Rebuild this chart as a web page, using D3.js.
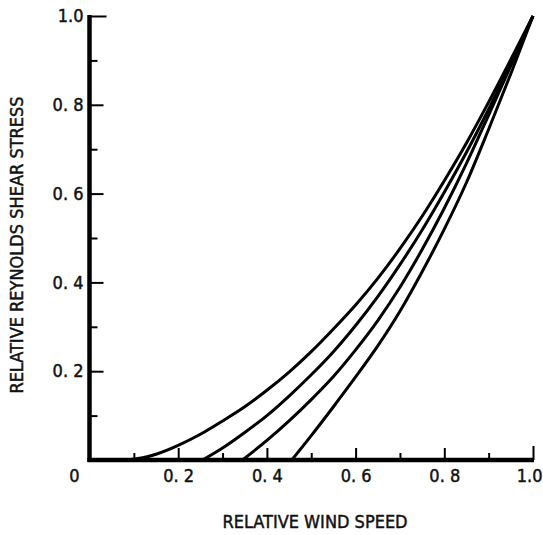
<!DOCTYPE html>
<html>
  <head>
    <title>Relative Reynolds shear stress</title>
    <script src="https://cdn.jsdelivr.net/npm/d3@7/dist/d3.min.js"></script>
    <style>
      body { margin: 0; background: #fff; }
      text { font-family: 'Liberation Sans Narrow', 'DejaVu Sans Condensed', sans-serif; fill: #111; stroke: #111; stroke-width: 0.45px; }
    </style>
  </head>
  <body>
    <svg width='543' height='535'></svg>
    <script>
      const svg = d3.select('svg');
      const margin = {top: 16, bottom: 75, left: 89.5, right: 10};

      // values: [relative wind speed, relative shear stress]
      const curve1 = [[0.08, 0], [0.12, 0.005], [0.15, 0.013], [0.2, 0.033], [0.25, 0.058], [0.3, 0.088],
                      [0.35, 0.120], [0.4, 0.157], [0.45, 0.198], [0.5, 0.244], [0.55, 0.295], [0.6, 0.349],
                      [0.65, 0.409], [0.7, 0.476], [0.75, 0.549], [0.8, 0.629], [0.85, 0.714], [0.9, 0.806],
                      [0.95, 0.902], [1, 1]];
      const curve2 = [[0.255, 0], [0.3, 0.027], [0.35, 0.062], [0.4, 0.100], [0.45, 0.144], [0.5, 0.192],
                      [0.55, 0.244], [0.6, 0.303], [0.65, 0.368], [0.7, 0.440], [0.75, 0.518], [0.8, 0.603],
                      [0.85, 0.693], [0.9, 0.790], [0.95, 0.893], [1, 1]];
      const curve3 = [[0.345, 0], [0.4, 0.044], [0.45, 0.088], [0.5, 0.136], [0.55, 0.188], [0.6, 0.248],
                      [0.65, 0.314], [0.7, 0.389], [0.75, 0.474], [0.8, 0.567], [0.85, 0.668], [0.9, 0.777],
                      [0.95, 0.888], [1, 1]];
      const curve4 = [[0.456, 0], [0.5, 0.055], [0.55, 0.120], [0.6, 0.187], [0.65, 0.257], [0.7, 0.335],
                      [0.75, 0.424], [0.8, 0.520], [0.85, 0.625], [0.9, 0.745], [0.95, 0.870], [1, 1]];
      const curves = [curve1, curve2, curve3, curve4];

      const majorTicks = [0.2, 0.4, 0.6, 0.8, 1.0];
      const minorTicks = [0.1, 0.3, 0.5, 0.7, 0.9];
      const xTickLabels = ['0. 2', '0. 4', '0. 6', '0. 8', '1.0'];
      const yTickLabels = ['0. 2', '0. 4', '0. 6', '0. 8', '1.0'];
      const originLabel = '0';
      const xTitle = 'RELATIVE WIND SPEED';
      const yTitle = 'RELATIVE REYNOLDS SHEAR STRESS';

      const width = 543, height = 535;
      const xScale = d3.scaleLinear().domain([0, 1]).range([margin.left, 533]);
      const yScale = d3.scaleLinear().domain([0, 1]).range([height - margin.bottom, margin.top]);

      const g = svg.append('g');

      // minor ticks
      g.append('g')
        .attr('transform', `translate(0,${yScale(0)})`)
        .call(d3.axisBottom(xScale).tickValues(minorTicks).tickSize(-7).tickFormat(''))
        .call(a => a.select('.domain').remove())
        .selectAll('line').attr('stroke-width', 2);
      g.append('g')
        .attr('transform', `translate(${xScale(0)},0)`)
        .call(d3.axisLeft(yScale).tickValues(minorTicks).tickSize(-8).tickFormat(''))
        .call(a => a.select('.domain').remove())
        .selectAll('line').attr('stroke-width', 2);

      // major ticks + labels
      const xAxisG = g.append('g')
        .attr('transform', `translate(0,${yScale(0)})`)
        .call(d3.axisBottom(xScale).tickValues(majorTicks).tickSize(-12).tickPadding(9)
          .tickFormat((d, i) => xTickLabels[i]));
      const yAxisG = g.append('g')
        .attr('transform', `translate(${xScale(0)},0)`)
        .call(d3.axisLeft(yScale).tickValues(majorTicks).tickSize(-14).tickPadding(6)
          .tickFormat((d, i) => yTickLabels[i]));
      [xAxisG, yAxisG].forEach(a => {
        a.select('.domain').remove();
        a.selectAll('line').attr('stroke-width', 2);
        a.selectAll('text').style('font-size', '18px').attr('fill', '#111');
      });
      xAxisG.selectAll('.tick:last-of-type line').attr('y2', -14);
      // last label sits flush with the right edge, as in the scan
      xAxisG.selectAll('.tick:last-of-type text')
        .attr('text-anchor', 'end')
        .attr('x', width - 1 - xScale(1));
      yAxisG.selectAll('.tick:last-of-type line').attr('x2', 17);

      // heavy axis lines
      g.append('line')
        .attr('x1', xScale(0) - 2).attr('x2', xScale(1) + 1)
        .attr('y1', yScale(0)).attr('y2', yScale(0))
        .attr('stroke', '#000').attr('stroke-width', 4.5);
      g.append('line')
        .attr('x1', xScale(0)).attr('x2', xScale(0))
        .attr('y1', yScale(0) + 2).attr('y2', yScale(1) - 1)
        .attr('stroke', '#000').attr('stroke-width', 4.5);

      g.append('text')
        .attr('x', xScale(0) - 15)
        .attr('y', yScale(0) + 22)
        .attr('text-anchor', 'middle')
        .style('font-size', '18px')
        .text(originLabel);

      // curves
      const line = d3.line()
        .x(d => xScale(d[0]))
        .y(d => yScale(d[1]))
        .curve(d3.curveMonotoneX);
      g.selectAll('path.curve').data(curves)
        .enter().append('path')
        .attr('class', 'curve')
        .attr('d', line)
        .attr('fill', 'none')
        .attr('stroke', '#000')
        .attr('stroke-width', 3);

      // titles
      g.append('text')
        .attr('x', 315)
        .attr('y', 528)
        .attr('text-anchor', 'middle')
        .style('font-size', '18px')
        .text(xTitle);
      g.append('text')
        .attr('transform', `translate(23,245) rotate(-90)`)
        .attr('text-anchor', 'middle')
        .style('font-size', '18px')
        .text(yTitle);
    </script>
  </body>
</html>
